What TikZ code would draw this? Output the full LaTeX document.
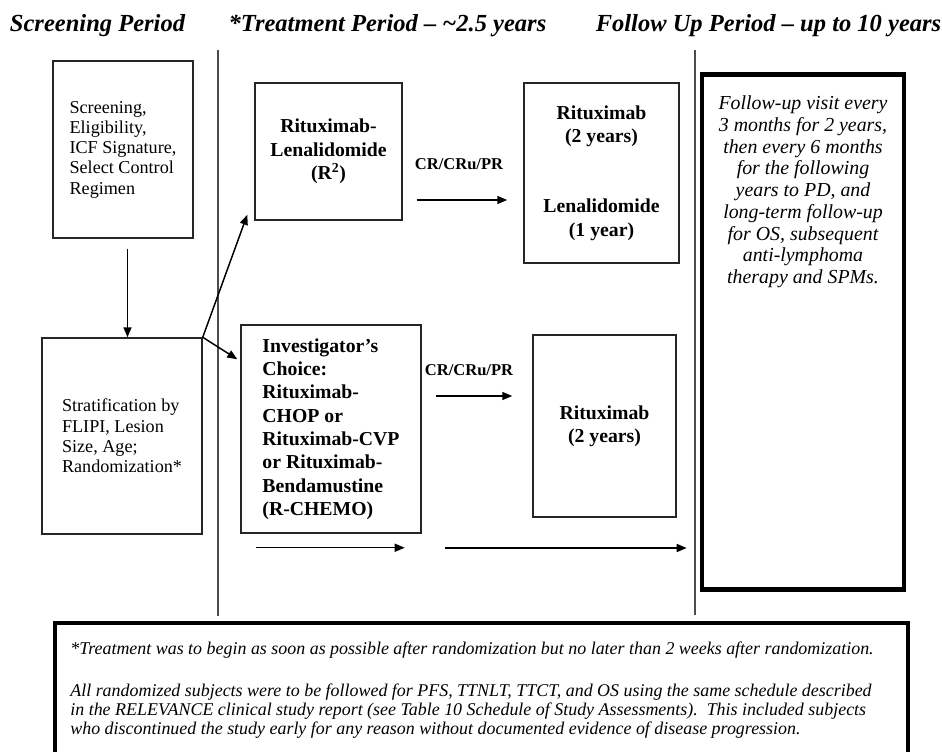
\documentclass[tikz,border=0pt]{standalone}
\usepackage{fontspec}
\setmainfont{Liberation Serif}
\usetikzlibrary{arrows.meta, positioning, calc}
\newcommand*{\sz}[2]{\fontsize{#1}{#2}\selectfont}

\begin{document}
\begin{tikzpicture}[
    x=0.75pt, y=-0.75pt, >={Triangle[length=7.5pt,width=6pt]},
    period/.style={anchor=base, font=\sz{18.4}{22}\bfseries\itshape},
    box/.style={draw=black!85, line width=1.1pt, inner sep=0pt, align=center, font=\sz{14.8}{17.5}\bfseries},
    plainbox/.style={box, align=left, font=\sz{13.6}{15.2}},
    thickbox/.style={draw, line width=3.4pt, inner sep=0pt},
    divider/.style={draw=black!70, line width=1.1pt},
    flow/.style={->, line width=1.1pt},
    cr/.style={anchor=base, font=\sz{12.4}{14}\bfseries},
  ]
  \clip (0,0) rectangle (942,752);
  \fill[white] (0,0) rectangle (942,752);

  \node[period] (hscr) at (97.5,32) {Screening Period};
  \node[period] (htrt) at (387.5,32) {*Treatment Period – \textasciitilde2.5 years};
  \node[period] (hfup) at (768.5,32) {Follow Up Period – up to 10 years};

  \draw[divider] (218,50) -- (218,616);
  \draw[divider] (695,50) -- (695,615);

  \node[plainbox, minimum width=105pt, minimum height=132.75pt] (scr) at (123,149.5)
    {Screening,\\Eligibility,\\ICF Signature,\\Select Control\\Regimen};
  \node[plainbox, minimum width=120pt, minimum height=147pt] (strat) at (122,436)
    {Stratification by\\FLIPI, Lesion\\Size, Age;\\Randomization*};

  \node[box, minimum width=110.25pt, minimum height=102.75pt] (r2) at (328.5,151.5)
    {Rituximab-\\Lenalidomide\\(R\textsuperscript{2})};
  \node[box, minimum width=116.25pt, minimum height=135pt] (ritlen) at (601.5,173)
    {Rituximab\\(2 years)\\[35pt]Lenalidomide\\(1 year)};
  \node[box, align=left, minimum width=135pt, minimum height=156pt] (inv) at (331,429)
    {Investigator’s\\Choice:\\Rituximab-\\CHOP or\\Rituximab-CVP\\or Rituximab-\\Bendamustine\\(R-CHEMO)};
  \node[box, minimum width=107.25pt, minimum height=136.5pt] (rit) at (604.5,426)
    {Rituximab\\(2 years)};

  \node[thickbox, minimum width=151.5pt, minimum height=386.25pt] (fup) at (803,332) {};
  \node[anchor=north, inner sep=0pt, align=center, font=\sz{14.9}{16.3}\itshape] (fuptxt)
    at ($(fup.north)+(0,23.5)$)
    {Follow-up visit every\\3 months for 2 years,\\then every 6 months\\for the following\\years to PD, and\\long-term follow-up\\for OS, subsequent\\anti-lymphoma\\therapy and SPMs.};

  \node[draw, line width=3pt, inner sep=0pt, minimum width=640pt, minimum height=125pt] (note) at (481.25,706.5) {};
  \node[anchor=north west, inner sep=0pt, align=left, font=\sz{13.45}{14.2}\itshape] (notetxt)
    at ($(note.north west)+(17.5,20)$)
    {*Treatment was to begin as soon as possible after randomization but no later than 2 weeks after randomization.\\[18pt]
     All randomized subjects were to be followed for PFS, TTNLT, TTCT, and OS using the same schedule described\\
     in the RELEVANCE clinical study report (see Table 10 Schedule of Study Assessments).\ \ This included subjects\\
     who discontinued the study early for any reason without documented evidence of disease progression.};

  \draw[flow] ($(scr.south)+(4.5,10)$) -- ($(strat.north)+(5.5,0)$);
  \draw[flow] (strat.north east) -- ($(r2.south west)+(-7,-6)$);
  \draw[flow] (strat.north east) -- ($(inv.north west)+(-3,35)$);

  \node[cr] (crtop) at (459,170) {CR/CRu/PR};
  \draw[flow] ($(r2.east)+(14,48.5)$) -- ($(ritlen.west)+(-16,27)$);
  \node[cr] (crbot) at (469,375) {CR/CRu/PR};
  \draw[flow] ($(inv.east)+(14,-33)$) -- ($(rit.west)+(-20,-30)$);

  \draw[flow] ($(inv.south west)+(16,14)$) -- ($(inv.south east)+(-17,14)$);
  \coordinate (tofup) at (445,548);
  \draw[flow, shorten >=9.75pt] (tofup) -- (tofup -| fup.west);
\end{tikzpicture}
\end{document}
